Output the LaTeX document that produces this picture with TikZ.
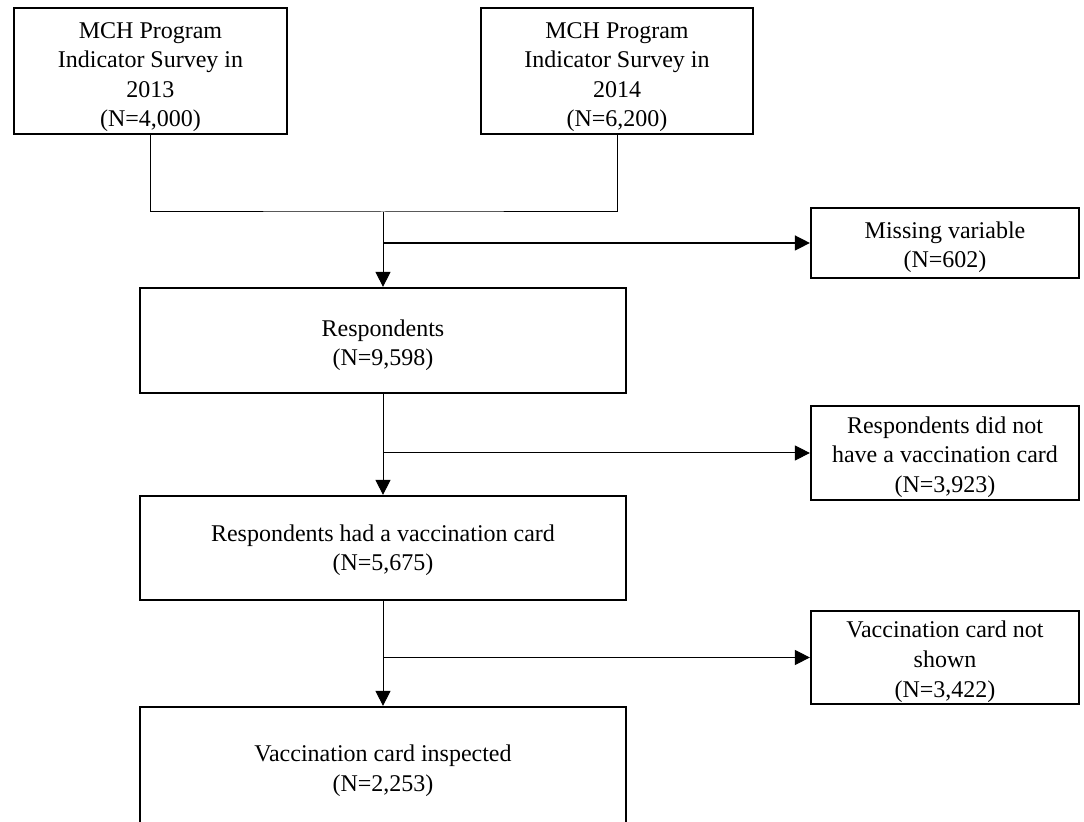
\documentclass[tikz,border=0pt]{standalone}
\usepackage{fontspec}
\setmainfont{Liberation Serif}
\usetikzlibrary{arrows.meta}
\newcommand{\lift}[1]{\rule{0pt}{#1}}
\tikzset{
  box/.style={draw, line width=1.1pt, align=center, inner sep=0pt,
    font=\fontsize{12}{14.8}\selectfont},
  srcbox/.style={box, minimum height=63pt},
  mainbox/.style={box, minimum width=243pt},
  sidebox/.style={box, minimum width=134pt},
  arr/.style={-{Triangle[length=7.5pt,width=7.5pt]}},
}
\begin{document}
\begin{tikzpicture}[x=0.5pt,y=-0.5pt,line width=0.5pt]
\useasboundingbox (0,0) rectangle (1084,822);
\node[srcbox, minimum width=136.5pt] (src13) at (150.5,71)
  {\lift{14pt}MCH Program\\Indicator Survey in\\2013\\(N=4,000)};
\node[srcbox, minimum width=136pt] (src14) at (617,71)
  {\lift{14pt}MCH Program\\Indicator Survey in\\2014\\(N=6,200)};
\coordinate (join) at (383,212);
\draw (src13.south) |- (join) -| (src14.south);
\node[sidebox, minimum height=35pt] (missing) at (945,243)
  {\lift{12.5pt}Missing variable\\(N=602)};
\node[mainbox, minimum height=52.5pt] (resp) at (383,340.5)
  {\lift{13pt}Respondents\\(N=9,598)};
\draw[arr] (join) -- (resp.north);
\draw[arr, line width=0.7pt] (join |- missing.west) -- (missing.west); %% -> excluded
\node[sidebox, minimum height=47pt] (nocard) at (945,453)
  {\lift{12.5pt}Respondents did not\\have a vaccination card\\(N=3,923)};
\node[mainbox, minimum height=52pt] (card) at (383,548)
  {\lift{10.5pt}Respondents had a vaccination card\\(N=5,675)};
\draw[arr] (resp.south) -- (card.north);
\draw[arr] (resp.south |- nocard.west) -- (nocard.west);
\node[sidebox, minimum height=46.5pt] (notshown) at (945,657.5)
  {\lift{12.5pt}Vaccination card not\\shown\\(N=3,422)};
\node[mainbox, minimum height=60.5pt] (inspected) at (383,767.5)
  {\lift{11.5pt}Vaccination card inspected\\(N=2,253)};
\draw[arr] (card.south) -- (inspected.north);
\draw[arr] (card.south |- notshown.west) -- (notshown.west);
\end{tikzpicture}
\end{document}
